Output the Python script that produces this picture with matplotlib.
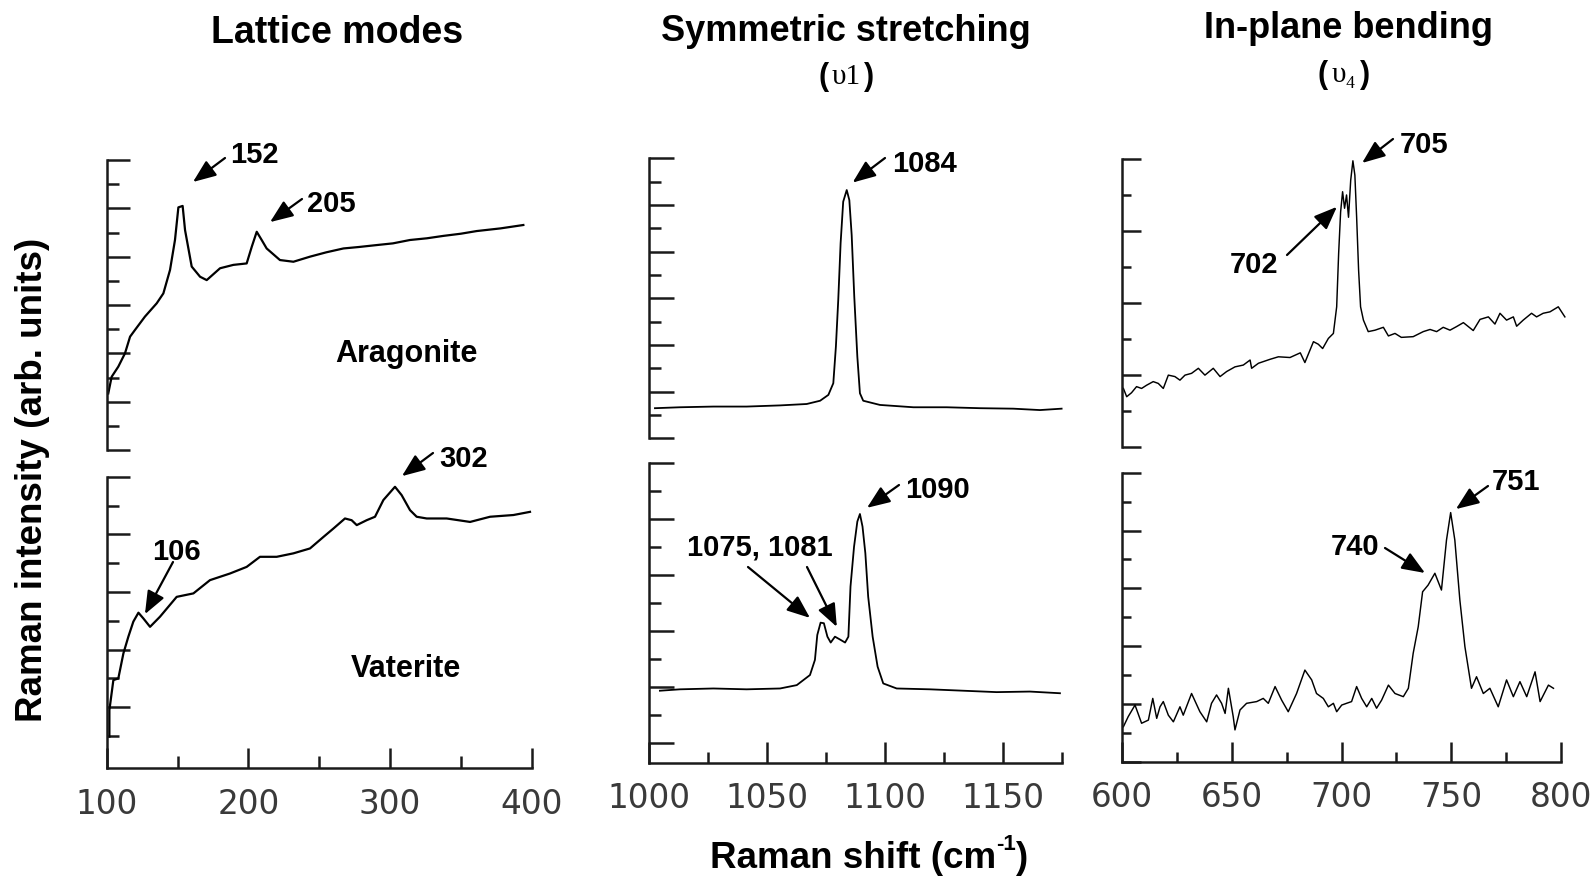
import matplotlib
matplotlib.use("Agg")
import matplotlib.pyplot as plt

plt.rcParams['font.family'] = ['Liberation Sans', 'DejaVu Sans']
plt.rcParams['mathtext.default'] = 'regular'

# ---------------- data ----------------
# Lattice modes, aragonite
arag_x = [101.1, 103.5, 108.2, 112.9, 116.5, 120.0, 127.0, 135.3, 140.0, 144.7, 148.2, 150.6, 153.6,
          155.3, 160.0, 165.9, 170.6, 180.0, 189.4, 198.8, 202.4, 205.9, 209.4, 212.9, 222.3, 231.8,
          243.5, 255.0, 267.1, 278.0, 290.6, 302.0, 314.1, 326.0, 337.7, 350.0, 361.2, 378.0, 394.1]
arag_y = [2.34, 3.03, 3.45, 4.00, 4.69, 4.97, 5.52, 6.07, 6.48, 7.45, 8.69, 10.04, 10.10,
          9.10, 7.59, 7.17, 7.03, 7.52, 7.66, 7.72, 8.41, 9.03, 8.69, 8.34, 7.86, 7.79,
          8.00, 8.18, 8.34, 8.40, 8.48, 8.55, 8.69, 8.76, 8.86, 8.95, 9.06, 9.17, 9.31]
# Lattice modes, vaterite
vat_x = [101.9, 101.9, 104.7, 108.2, 111.8, 115.3, 118.8, 122.4, 125.9, 130.6, 137.6, 149.4, 161.2,
         172.9, 187.0, 198.8, 208.2, 220.0, 231.8, 243.5, 253.0, 260.0, 268.2, 272.9, 276.5, 283.5,
         289.4, 295.3, 303.5, 308.2, 314.1, 318.8, 325.9, 340.0, 356.5, 370.6, 387.1, 398.8]
vat_y = [1.10, 2.02, 3.06, 3.12, 3.99, 4.57, 5.09, 5.40, 5.20, 4.91, 5.26, 5.95, 6.07,
         6.53, 6.76, 6.99, 7.34, 7.34, 7.46, 7.63, 8.03, 8.32, 8.67, 8.61, 8.44, 8.61,
         8.73, 9.31, 9.77, 9.48, 8.96, 8.73, 8.67, 8.67, 8.55, 8.73, 8.79, 8.90]
# Symmetric stretching, aragonite
ss_a_x = [1002.4, 1013.0, 1027.2, 1041.3, 1055.5, 1066.8, 1072.5, 1076.0, 1078.1, 1079.2, 1080.2,
          1081.2, 1082.3, 1083.8, 1084.9, 1085.9, 1087.0, 1088.3, 1089.4, 1090.8, 1097.9, 1112.1,
          1126.2, 1140.4, 1154.5, 1165.8, 1175.0]
ss_a_y = [1.29, 1.33, 1.36, 1.36, 1.41, 1.47, 1.61, 1.86, 2.36, 3.93, 5.93,
          8.36, 10.14, 10.64, 10.21, 8.71, 6.07, 3.50, 1.93, 1.61, 1.43, 1.33,
          1.33, 1.29, 1.27, 1.21, 1.27]
# Symmetric stretching, vaterite
ss_v_x = [1004.5, 1013.0, 1027.2, 1041.3, 1055.5, 1062.6, 1068.2, 1070.3, 1071.3, 1072.7, 1074.1,
          1075.6, 1077.0, 1078.8, 1080.9, 1083.1, 1084.5, 1085.4, 1086.9, 1088.3, 1089.4, 1090.5,
          1091.7, 1092.9, 1094.8, 1096.9, 1099.3, 1105.0, 1119.1, 1133.3, 1147.4, 1161.5, 1174.3]
ss_v_y = [2.57, 2.62, 2.65, 2.62, 2.65, 2.77, 3.13, 3.67, 4.56, 5.00, 4.98,
          4.50, 4.29, 4.50, 4.40, 4.29, 4.50, 6.29, 7.71, 8.61, 8.88, 8.43,
          7.48, 5.93, 4.50, 3.43, 2.83, 2.65, 2.62, 2.57, 2.52, 2.54, 2.48]
# In-plane bending, aragonite
ib_a_x = [600.5, 602.0, 604.2, 606.5, 608.8, 611.1, 614.1, 616.4, 618.7, 621.0, 624.0, 626.3, 628.6,
          631.6, 634.7, 637.7, 641.5, 644.6, 647.6, 651.4, 655.2, 658.3, 659.0, 662.1, 667.4, 671.2,
          676.5, 681.2, 683.3, 687.2, 689.4, 691.4, 694.0, 696.3, 697.8, 698.7, 699.6, 700.5, 701.4,
          702.3, 703.2, 704.2, 705.2, 706.1, 706.9, 707.8, 708.7, 710.0, 712.2, 715.3, 719.1, 721.4,
          724.4, 727.3, 732.7, 737.3, 740.4, 743.4, 746.4, 749.5, 752.5, 755.6, 760.1, 763.2, 767.0,
          770.0, 772.3, 775.3, 778.4, 779.9, 782.9, 786.7, 789.0, 792.0, 795.1, 798.9, 801.9]
ib_a_y = [1.62, 1.39, 1.50, 1.67, 1.62, 1.71, 1.81, 1.76, 1.62, 1.99, 1.95, 1.85, 1.99,
          2.04, 2.18, 1.99, 2.18, 1.95, 2.09, 2.22, 2.27, 2.41, 2.18, 2.32, 2.43, 2.50,
          2.48, 2.61, 2.34, 2.92, 2.85, 2.73, 3.01, 3.15, 3.89, 5.38, 6.53, 7.09, 6.63,
          7.00, 6.38, 7.41, 7.95, 7.55, 6.39, 4.91, 3.89, 3.52, 3.20, 3.24, 3.32, 3.08,
          3.15, 3.04, 3.06, 3.20, 3.26, 3.20, 3.32, 3.24, 3.34, 3.45, 3.23, 3.54, 3.61,
          3.41, 3.71, 3.52, 3.61, 3.35, 3.52, 3.71, 3.61, 3.71, 3.75, 3.89, 3.61]
# In-plane bending, vaterite
ib_v_x = [600.5, 602.7, 605.8, 608.8, 611.9, 613.9, 615.7, 617.2, 618.7, 621.0, 623.3, 626.3, 627.8,
          631.6, 635.4, 638.5, 640.7, 643.0, 645.3, 646.9, 648.4, 650.6, 651.4, 653.7, 656.7, 661.3,
          664.3, 666.6, 669.7, 672.7, 675.7, 679.5, 683.3, 686.4, 688.6, 691.7, 694.0, 696.3, 697.8,
          700.1, 702.3, 704.6, 706.9, 709.2, 711.5, 713.8, 716.0, 718.3, 721.4, 724.4, 728.2, 730.5,
          732.7, 735.0, 737.0, 739.5, 742.6, 745.6, 747.9, 749.8, 751.7, 754.0, 756.3, 759.3, 761.6,
          764.7, 767.7, 771.5, 775.3, 778.4, 781.4, 784.5, 788.3, 790.6, 794.4, 796.7]
ib_v_y = [1.21, 1.56, 1.96, 1.33, 1.44, 2.19, 1.50, 1.90, 2.08, 1.61, 1.38, 1.90, 1.61,
          2.36, 1.73, 1.38, 2.02, 2.31, 2.02, 1.67, 2.54, 1.56, 1.10, 1.79, 2.02, 2.08,
          2.19, 2.02, 2.60, 2.13, 1.73, 2.36, 3.17, 2.83, 2.36, 2.19, 1.90, 2.02, 1.73,
          1.96, 2.02, 2.08, 2.60, 2.19, 1.90, 2.19, 1.85, 2.13, 2.65, 2.36, 2.25, 2.54,
          3.75, 4.67, 5.88, 6.11, 6.52, 5.94, 7.67, 8.62, 7.67, 5.59, 3.98, 2.54, 2.94,
          2.36, 2.54, 1.90, 2.83, 2.25, 2.77, 2.25, 3.11, 2.08, 2.65, 2.54]

lattice_ticks = ["100", "200", "300", "400"]
lattice_tick_vals = [100, 200, 300, 400]
stretch_ticks = ["1000", "1050", "1100", "1150"]
stretch_tick_vals = [1000, 1050, 1100, 1150]
bend_ticks = ["600", "650", "700", "750", "800"]
bend_tick_vals = [600, 650, 700, 750, 800]

titles = ["Lattice modes", "Symmetric stretching", "In-plane bending"]

# ---------------- layout ----------------
W, H = 1592, 883
fig = plt.figure(figsize=(W / 100, H / 100), dpi=100)
fig.patch.set_facecolor('white')

SP = '#1a1a1a'
SPW = 1.8


def add_ax(x0, x1, yt, yb):
    return fig.add_axes([x0 / W, 1 - yb / H, (x1 - x0) / W, (yb - yt) / H])


def style(ax, ymax, ymaj, ymin, ylong, yshort, bottom, xmaj=None, xlabels=None, xmin=None,
          xlong=14.4, xshort=8):
    for s in ['top', 'right']:
        ax.spines[s].set_visible(False)
    ax.spines['left'].set_linewidth(SPW)
    ax.spines['left'].set_color(SP)
    ax.spines['left'].set_capstyle('projecting')
    ax.set_ylim(0, ymax)
    ax.set_yticks(ymaj)
    ax.set_yticks(ymin, minor=True)
    ax.tick_params(axis='y', which='major', direction='in', length=ylong, width=SPW, color=SP,
                   labelleft=False)
    ax.tick_params(axis='y', which='minor', direction='in', length=yshort, width=SPW, color=SP,
                   labelleft=False)
    ax.set_facecolor('none')
    if not bottom:
        ax.spines['bottom'].set_visible(False)
        ax.tick_params(axis='x', which='both', bottom=False, labelbottom=False)
    else:
        ax.spines['bottom'].set_linewidth(SPW)
        ax.spines['bottom'].set_color(SP)
        ax.spines['bottom'].set_capstyle('projecting')
        ax.set_xticks(xmaj)
        ax.set_xticklabels(xlabels)
        ax.set_xticks(xmin, minor=True)
        ax.tick_params(axis='x', which='major', direction='in', length=xlong, width=SPW, color=SP,
                       pad=14, labelsize=23.5, labelcolor='#3a3a3a')
        ax.tick_params(axis='x', which='minor', direction='in', length=xshort, width=SPW, color=SP)
        for lab in ax.get_xticklabels():
            lab.set_fontfamily('DejaVu Sans')


LW_L = 1.6
LW_M = 1.3
LW_R = 1.05

# Lattice modes
ax1 = add_ax(106.7, 531.7, 160.0, 450.0)
ax1.set_xlim(100, 400)
ax1.plot(arag_x, arag_y, color='k', lw=LW_L, clip_on=False)
style(ax1, 12, [0, 2, 4, 6, 8, 10, 12], [1, 3, 5, 7, 9, 11], 16.5, 8.6, False)

ax2 = add_ax(106.7, 531.7, 476.7, 768.3)
ax2.set_xlim(100, 400)
ax2.plot(vat_x, vat_y, color='k', lw=LW_L, clip_on=False)
top2 = 10.12
style(ax2, top2, [top2 - 2 * k for k in range(5)], [top2 - 1 - 2 * k for k in range(5)], 16.5, 8.6,
      True, lattice_tick_vals, lattice_ticks, [150, 250, 350], 14.4, 8.6)

# Symmetric stretching
ax3 = add_ax(649.3, 1061.6, 158.3, 438.3)
ax3.set_xlim(1000, 1175)
ax3.plot(ss_a_x, ss_a_y, color='k', lw=LW_M, clip_on=False)
style(ax3, 12, [0, 2, 4, 6, 8, 10, 12], [1, 3, 5, 7, 9, 11], 18, 8.6, False)

ax4 = add_ax(649.3, 1061.6, 463.3, 762.7)
ax4.set_xlim(1000, 1175)
ax4.plot(ss_v_x, ss_v_y, color='k', lw=LW_M, clip_on=False)
top4 = 10.69
style(ax4, top4, [top4 - 2 * k for k in range(6)], [top4 - 1 - 2 * k for k in range(5)], 18, 8.6,
      True, stretch_tick_vals, stretch_ticks, [1025, 1075, 1125, 1175], 15, 8)

# In-plane bending
ax5 = add_ax(1122.3, 1560.7, 159.0, 446.7)
ax5.set_xlim(600, 800)
ax5.plot(ib_a_x, ib_a_y, color='k', lw=LW_R, clip_on=False)
style(ax5, 8, [0, 2, 4, 6, 8], [1, 3, 5, 7], 13.7, 6.5, False)

ax6 = add_ax(1122.3, 1560.7, 472.7, 761.7)
ax6.set_xlim(600, 800)
ax6.plot(ib_v_x, ib_v_y, color='k', lw=LW_R, clip_on=False)
style(ax6, 10, [0, 2, 4, 6, 8, 10], [1, 3, 5, 7, 9], 13.7, 6.5,
      True, bend_tick_vals, bend_ticks, [625, 675, 725, 775], 14.4, 7.2)


# ---------------- text ----------------
def ftext(x, y, s, **kw):
    return fig.text(x / W, 1 - y / H, s, **kw)


bold = dict(fontweight='bold', color='black')
ftext(337.5, 43.3, titles[0], ha='center', va='baseline', fontsize=27, **bold)
ftext(845.5, 40.6, titles[1], ha='center', va='baseline', fontsize=26, **bold)
ftext(1348, 38.5, titles[2], ha='center', va='baseline', fontsize=26, **bold)

serif = ['Liberation Serif', 'DejaVu Serif']
ftext(824, 77, "(", ha='center', va='center', fontsize=22, **bold)
ftext(846, 77, "υ1", ha='center', va='center', fontsize=21, family=serif)
ftext(869, 77, ")", ha='center', va='center', fontsize=22, **bold)
ftext(1323, 75, "(", ha='center', va='center', fontsize=22, **bold)
ftext(1344, 75, "υ₄", ha='center', va='center', fontsize=21, family=serif)
ftext(1365, 75, ")", ha='center', va='center', fontsize=22, **bold)

ftext(32.5, 480, "Raman intensity (arb. units)", ha='center', va='center', rotation=90,
      fontsize=26.5, **bold)
# x-axis title with a short hyphen superscript
xl_main = ftext(853, 868, "Raman shift (cm", ha='center', va='baseline', fontsize=26.5, **bold)
ftext(1006, 850, "-1", ha='center', va='baseline', fontsize=16, **bold)
ftext(1021, 868, ")", ha='center', va='baseline', fontsize=26.5, **bold)

ftext(406, 361.7, "Aragonite", ha='center', va='baseline', fontsize=22, **bold)
ftext(406, 676.7, "Vaterite", ha='center', va='baseline', fontsize=22, **bold)

peak_labels = [
    (254, 163.3, "152"), (331, 211.7, "205"), (464, 466.7, "302"), (176, 560, "106"),
    (924, 171.7, "1084"), (937.5, 498.3, "1090"), (759.5, 555.5, "1075, 1081"),
    (1424, 153.3, "705"), (1254, 273, "702"), (1516, 490, "751"), (1355, 555, "740"),
]
for x, y, s in peak_labels:
    ftext(x, y, s, ha='center', va='baseline', fontsize=21, **bold)

# arrows: (axes, tip in data coords, tail in figure pixels from top)
arrows = [
    (ax1, (160.9, 11.09), (225, 158)),
    (ax1, (215.3, 9.43), (302, 199)),
    (ax2, (308.4, 10.14), (433, 453)),
    (ax2, (127.0, 5.35), (173, 562)),
    (ax3, (1086.3, 10.96), (885, 158)),
    (ax4, (1092.4, 9.10), (899, 485)),
    (ax4, (1068.2, 5.17), (748, 567)),
    (ax4, (1079.6, 4.85), (807, 567)),
    (ax5, (709.4, 7.89), (1393, 139)),
    (ax5, (697.9, 6.67), (1287, 255)),
    (ax6, (752.2, 8.74), (1488, 486)),
    (ax6, (738.1, 6.53), (1385, 548)),
]
for ax, tip, tail in arrows:
    ax.annotate('', xy=tip, xycoords='data', xytext=(tail[0], H - tail[1]),
                textcoords='figure pixels', annotation_clip=False,
                arrowprops=dict(arrowstyle='-|>,head_length=0.7,head_width=0.28', lw=1.6,
                                color='k', shrinkA=0, shrinkB=0, mutation_scale=20))

fig.savefig('out.png', dpi=100)
